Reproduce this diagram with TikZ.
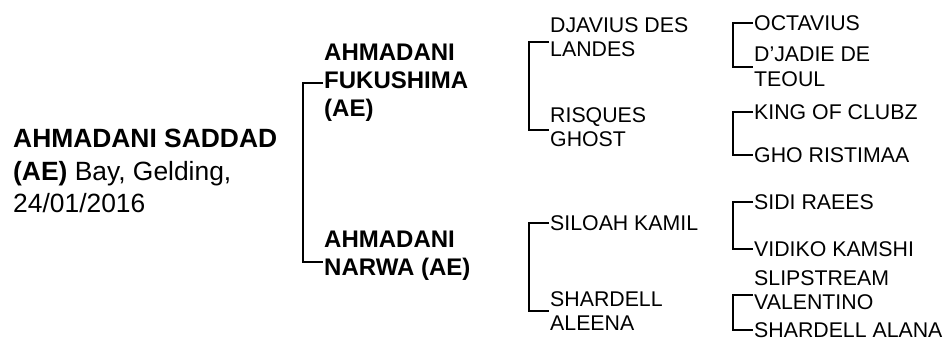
\documentclass[tikz,border=0pt]{standalone}
\usepackage{fontspec}
\setmainfont{Liberation Sans}
\usepackage{tikz}
\tikzstyle{horse}=[anchor=west,inner sep=1pt,align=left,font=\fontsize{21.3}{24.5}\selectfont]
\tikzstyle{parent}=[horse,font=\bfseries\fontsize{24}{28}\selectfont]
\tikzstyle{link}=[line width=2pt]

\begin{document}
\begin{tikzpicture}[x=1pt,y=-1pt]
\useasboundingbox (0,0) rectangle (944,343);
% the horse itself
\node[horse,font=\fontsize{26.4}{32.5}\selectfont] (saddad) at (12,171) {\textbf{AHMADANI SADDAD}\\\textbf{(AE)} Bay, Gelding,\\24/01/2016};
% parents
\node[parent] (fukushima) at (323,83) {AHMADANI\\FUKUSHIMA\\(AE)};
\node[parent] (narwa) at (323,256) {AHMADANI\\NARWA (AE)};
% grandparents
\node[horse] (djavius) at (549,37) {DJAVIUS DES\\LANDES};
\node[horse] (risques) at (549,127) {RISQUES\\GHOST};
\node[horse] (siloah) at (549,223) {SILOAH KAMIL};
\node[horse] (aleena) at (549,311) {SHARDELL\\ALEENA};
% great grandparents
\node[horse] (octavius) at (753,23) {OCTAVIUS};
\node[horse] (djadie) at (753,67) {D'JADIE DE\\TEOUL};
\node[horse] (king) at (753,112) {KING OF CLUBZ};
\node[horse] (gho) at (753,155) {GHO RISTIMAA};
\node[horse] (sidi) at (753,202) {SIDI RAEES};
\node[horse] (vidiko) at (753,249) {VIDIKO KAMSHI};
\node[horse] (slipstream) at (753,290) {SLIPSTREAM\\VALENTINO};
\node[horse] (alana) at (753,330) {SHARDELL ALANA};
% brackets
\draw[link] (fukushima.west) -- ++(-20,0) |- ([yshift=-6pt]narwa.west);
\draw[link] ([yshift=-5pt]djavius.west) -- ++(-20,0) |- ([yshift=-3pt]risques.west);
\draw[link] (siloah.west) -- ++(-20,0) |- (aleena.west);
\draw[link] (octavius.west) -- ++(-20,0) |- (djadie.west);
\draw[link] (king.west) -- ++(-20,0) |- (gho.west);
\draw[link] (sidi.west) -- ++(-20,0) |- (vidiko.west);
\draw[link] ([yshift=-5pt]slipstream.west) -- ++(-20,0) |- (alana.west);
\end{tikzpicture}
\end{document}
